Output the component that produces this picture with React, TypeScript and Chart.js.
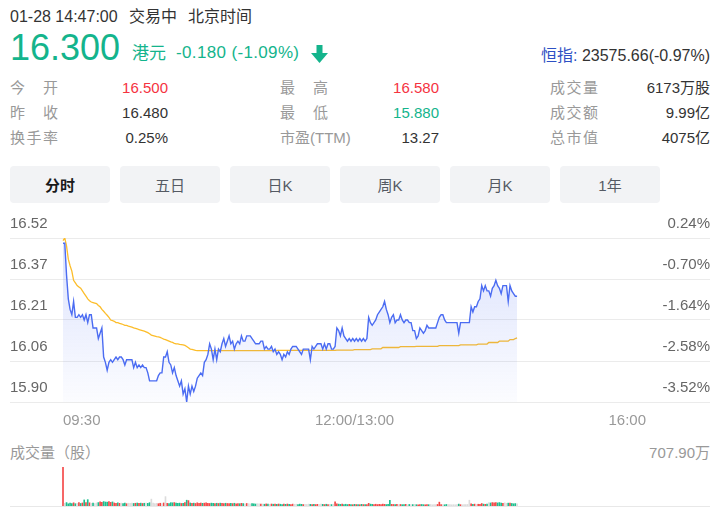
import React, { useEffect, useRef } from 'react';
import { Chart, registerables } from 'chart.js';

Chart.register(...registerables);

const FONT = '"Liberation Sans", "Noto Sans CJK SC", sans-serif';
Chart.defaults.font.family = FONT;

// ---------------- data ----------------
const prevClose = 16.48;
const priceTicks = [16.52, 16.365, 16.21, 16.055, 15.9];
const priceTickLabels = ['16.52', '16.37', '16.21', '16.06', '15.90'];
const pctTickLabels = ['0.24%', '-0.70%', '-1.64%', '-2.58%', '-3.52%'];
const timeTickPositions = [0, 165, 330];
const timeTickLabels = ['09:30', '12:00/13:00', '16:00'];

const priceSeries = [
  16.50, 16.50, 16.38, 16.29, 16.25, 16.23, 16.28, 16.22, 16.22, 16.23,
  16.22, 16.23, 16.21, 16.23, 16.20, 16.23, 16.23, 16.18, 16.18, 16.18,
  16.14, 16.16, 16.18, 16.07, 16.05, 16.02, 16.05, 16.06, 16.05, 16.06,
  16.07, 16.06, 16.07, 16.07, 16.06, 16.04, 16.06, 16.06, 16.06, 16.06,
  16.03, 16.05, 16.03, 16.04, 16.03, 16.04, 16.03, 16.03, 16.01, 15.98,
  15.98, 15.98, 15.98, 15.98, 16.00, 16.01, 16.01, 16.07, 16.07, 16.09,
  16.05, 16.04, 16.01, 16.03, 16.00, 15.98, 15.96, 15.98, 15.93, 15.95,
  15.90, 15.96, 15.93, 15.96, 15.94, 15.96, 15.99, 16.00, 16.01, 16.00,
  16.05, 16.06, 16.08, 16.12, 16.10, 16.06, 16.10, 16.06, 16.10, 16.09,
  16.12, 16.14, 16.11, 16.13, 16.15, 16.12, 16.13, 16.10, 16.12, 16.13,
  16.12, 16.15, 16.13, 16.13, 16.15, 16.15, 16.15, 16.14, 16.13, 16.12,
  16.12, 16.12, 16.13, 16.13, 16.10, 16.11, 16.10, 16.10, 16.11, 16.09,
  16.10, 16.08, 16.09, 16.08, 16.06, 16.08, 16.07, 16.09, 16.08, 16.10,
  16.11, 16.11, 16.11, 16.10, 16.09, 16.08, 16.10, 16.10, 16.10, 16.10,
  16.06, 16.11, 16.10, 16.11, 16.12, 16.12, 16.12, 16.10, 16.12, 16.10,
  16.12, 16.12, 16.10, 16.10, 16.11, 16.18, 16.17, 16.15, 16.18, 16.15,
  16.14, 16.13, 16.14, 16.13, 16.14, 16.13, 16.14, 16.13, 16.14, 16.13,
  16.14, 16.13, 16.14, 16.22, 16.20, 16.19, 16.20, 16.21, 16.23, 16.24,
  16.25, 16.26, 16.28, 16.25, 16.23, 16.20, 16.22, 16.23, 16.20, 16.21,
  16.21, 16.23, 16.21, 16.20, 16.21, 16.21, 16.20, 16.20, 16.17, 16.17,
  16.14, 16.15, 16.18, 16.17, 16.16, 16.17, 16.19, 16.18, 16.18, 16.18,
  16.18, 16.18, 16.20, 16.22, 16.23, 16.23, 16.21, 16.20, 16.20, 16.20,
  16.20, 16.20, 16.20, 16.20, 16.16, 16.20, 16.20, 16.20, 16.20, 16.20,
  16.20, 16.26, 16.24, 16.26, 16.26, 16.28, 16.29, 16.34, 16.32, 16.34,
  16.32, 16.32, 16.30, 16.33, 16.34, 16.36, 16.34, 16.33, 16.31, 16.34,
  16.34, 16.34, 16.28, 16.34, 16.32, 16.31, 16.30, 16.30,
];

const avgSeries = [
  16.51, 16.52, 16.49, 16.44, 16.415, 16.395, 16.36, 16.35, 16.34, 16.335,
  16.33, 16.32, 16.31, 16.30, 16.29, 16.283, 16.278, 16.276, 16.274, 16.272,
  16.265, 16.26, 16.25, 16.243, 16.235, 16.228, 16.22, 16.21, 16.208, 16.205,
  16.20, 16.20, 16.197, 16.195, 16.193, 16.19, 16.19, 16.187, 16.185, 16.183,
  16.18, 16.178, 16.176, 16.174, 16.172, 16.17, 16.168, 16.165, 16.162, 16.158,
  16.153, 16.151, 16.149, 16.147, 16.146, 16.144, 16.141, 16.138, 16.136, 16.133,
  16.13, 16.127, 16.125, 16.122, 16.12, 16.12, 16.118, 16.117, 16.116, 16.114,
  16.11, 16.105, 16.10, 16.099, 16.097, 16.095, 16.094, 16.094, 16.094, 16.094,
  16.094, 16.094, 16.094, 16.094, 16.094, 16.094, 16.094, 16.094, 16.094, 16.094,
  16.094, 16.094, 16.094, 16.094, 16.094, 16.094, 16.094, 16.094, 16.094, 16.094,
  16.094, 16.094, 16.094, 16.094, 16.094, 16.094, 16.094, 16.094, 16.094, 16.094,
  16.094, 16.094, 16.094, 16.094, 16.094, 16.094, 16.094, 16.094, 16.094, 16.094,
  16.094, 16.095, 16.095, 16.095, 16.095, 16.095, 16.095, 16.095, 16.095, 16.095,
  16.095, 16.095, 16.095, 16.095, 16.095, 16.095, 16.095, 16.095, 16.095, 16.095,
  16.095, 16.095, 16.095, 16.095, 16.095, 16.095, 16.095, 16.095, 16.095, 16.095,
  16.095, 16.095, 16.095, 16.095, 16.095, 16.096, 16.096, 16.096, 16.096, 16.096,
  16.096, 16.096, 16.096, 16.096, 16.096, 16.098, 16.098, 16.098, 16.098, 16.098,
  16.098, 16.098, 16.098, 16.098, 16.098, 16.101, 16.101, 16.101, 16.101, 16.101,
  16.101, 16.106, 16.106, 16.106, 16.106, 16.106, 16.106, 16.106, 16.106, 16.106,
  16.106, 16.109, 16.109, 16.109, 16.109, 16.109, 16.109, 16.109, 16.109, 16.109,
  16.110, 16.110, 16.110, 16.110, 16.110, 16.110, 16.110, 16.110, 16.110, 16.110,
  16.110, 16.110, 16.110, 16.113, 16.113, 16.113, 16.113, 16.113, 16.113, 16.113,
  16.113, 16.113, 16.113, 16.113, 16.113, 16.116, 16.116, 16.116, 16.116, 16.116,
  16.116, 16.116, 16.116, 16.116, 16.116, 16.119, 16.119, 16.119, 16.119, 16.119,
  16.119, 16.125, 16.125, 16.125, 16.125, 16.125, 16.125, 16.130, 16.130, 16.130,
  16.130, 16.130, 16.130, 16.136, 16.136, 16.136, 16.140, 16.142,
];

// volume per minute, in 万股
const volumeSeries = [
  707.9, 48, 62, 40, 55, 45, 58, 42, 50, 60,
  46, 55, 110, 62, 115, 58, 48, 52, 44, 56,
  62, 75, 68, 80, 72, 70, 78, 66, 74, 55,
  50, 58, 48, 52, 46, 55, 42, 50, 48, 52,
  46, 50, 54, 48, 52, 46, 50, 55, 48, 60,
  125, 52, 46, 48, 42, 50, 45, 55, 170, 48,
  44, 60, 58, 62, 55, 48, 52, 46, 50, 62,
  105, 98, 55, 48, 52, 46, 58, 50, 54, 48,
  52, 56, 50, 46, 52, 48, 44, 50, 46, 52,
  48, 44, 50, 46, 42, 48, 44, 50, 40, 46,
  42, 48, 44, 40, 46, 42, 38, 44, 40, 36,
  42, 38, 34, 36, 32, 38, 34, 30, 36, 32,
  34, 30, 36, 32, 28, 34, 30, 36, 32, 28,
  34, 30, 32, 28, 34, 30, 26, 32, 28, 34,
  30, 28, 32, 26, 30, 28, 34, 30, 26, 32,
  28, 30, 26, 32, 75, 40, 34, 30, 36, 28,
  32, 26, 30, 28, 24, 30, 26, 28, 24, 30,
  26, 28, 24, 48, 34, 30, 28, 32, 26, 30,
  28, 34, 30, 26, 32, 105, 30, 28, 24, 30,
  26, 28, 24, 26, 30, 22, 28, 24, 26, 30,
  24, 22, 26, 28, 24, 22, 26, 24, 28, 22,
  26, 24, 28, 70, 26, 24, 22, 28, 24, 26,
  22, 24, 22, 26, 34, 24, 22, 26, 24, 28,
  105, 40, 30, 34, 28, 32, 30, 45, 34, 30,
  36, 60, 55, 62, 58, 60, 56, 62, 54, 50,
  58, 48, 52, 55, 46, 40, 44, 38,
];
const volumeMax = 707.9;
const volumeMaxLabel = '707.90万';
const volumeTitle = '成交量（股）';

const headerTime = '01-28 14:47:00';
const headerStatus = '交易中';
const headerZone = '北京时间';
const lastPrice = '16.300';
const currency = '港元';
const changeText = '-0.180 (-1.09%)';
const indexName = '恒指:';
const indexValue = ' 23575.66(-0.97%)';

const quoteRows = [
  [
    { label: '今开', value: '16.500', tone: 'up' },
    { label: '最高', value: '16.580', tone: 'up' },
    { label: '成交量', value: '6173万股', tone: '' },
  ],
  [
    { label: '昨收', value: '16.480', tone: '' },
    { label: '最低', value: '15.880', tone: 'down' },
    { label: '成交额', value: '9.99亿', tone: '' },
  ],
  [
    { label: '换手率', value: '0.25%', tone: '' },
    { label: '市盈(TTM)', value: '13.27', tone: '' },
    { label: '总市值', value: '4075亿', tone: '' },
  ],
];
const tabLabels = ['分时', '五日', '日K', '周K', '月K', '1年'];

// ---------------- styles ----------------
const GREEN = '#14b48c';
const RED = '#f5333f';
const LABEL = '#999999';
const TEXT = '#333333';
const X_MIN = -30;
const X_MAX = 366.2;

type TProps = {
  x: number;
  cy: number;
  size: number;
  color?: string;
  right?: boolean;
  weight?: number;
  children: React.ReactNode;
  spacing?: number;
};

function T({ x, cy, size, color = TEXT, right, weight = 400, children, spacing = 0 }: TProps) {
  const style: React.CSSProperties = {
    position: 'absolute',
    top: cy - 0.49 * size,
    fontSize: size,
    lineHeight: `${size}px`,
    color,
    fontWeight: weight,
    whiteSpace: 'nowrap',
    letterSpacing: spacing,
  };
  if (right) style.right = 724 - x;
  else style.left = x;
  return <div style={style}>{children}</div>;
}

function Label({ x, cy, text }: { x: number; cy: number; text: string }) {
  const chars = Array.from(text);
  const justify = chars.length <= 3;
  return (
    <div
      style={{
        position: 'absolute',
        left: x,
        top: cy - 0.49 * 15,
        fontSize: 15,
        lineHeight: '15px',
        color: LABEL,
        whiteSpace: 'nowrap',
        width: justify ? 48 : undefined,
        display: justify ? 'flex' : 'block',
        justifyContent: 'space-between',
      }}
    >
      {justify ? chars.map((c, i) => <span key={i}>{c}</span>) : text}
    </div>
  );
}

export default function App() {
  const priceRef = useRef<HTMLCanvasElement | null>(null);
  const volRef = useRef<HTMLCanvasElement | null>(null);

  useEffect(() => {
    const priceData = priceSeries.map((v, i) => ({ x: i, y: v }));
    const avgData = avgSeries.map((v, i) => ({ x: i, y: v }));
    const volData = volumeSeries.map((v, i) => ({ x: i, y: v }));
    const volColors = priceSeries.map((p, i) => {
      const prev = i === 0 ? prevClose : priceSeries[i - 1];
      if (p > prev) return '#f54848';
      if (p < prev) return '#1dbf8e';
      return '#dcdcdc';
    });

    const priceTickBuild = (s: any) => {
      s.ticks = priceTicks.map((v) => ({ value: v }));
    };

    const priceChart = new Chart(priceRef.current!, {
      type: 'line',
      data: {
        datasets: [
          {
            data: priceData,
            borderColor: '#4b6cf2',
            borderWidth: 1.4,
            pointRadius: 0,
            tension: 0,
            fill: 'start',
            backgroundColor: (ctx: any) => {
              const ca = ctx.chart.chartArea;
              if (!ca) return 'rgba(75,108,242,0.1)';
              const g = ctx.chart.ctx.createLinearGradient(0, ca.top, 0, ca.bottom);
              g.addColorStop(0, 'rgba(75,108,242,0.20)');
              g.addColorStop(1, 'rgba(75,108,242,0.02)');
              return g;
            },
          },
          {
            data: avgData,
            borderColor: '#fcbd2a',
            borderWidth: 1.3,
            pointRadius: 0,
            tension: 0,
            fill: false,
          },
        ],
      },
      options: {
        animation: false,
        responsive: false,
        events: [],
        layout: { padding: { top: 33, left: 0, right: 0, bottom: 0 } },
        plugins: { legend: { display: false }, tooltip: { enabled: false } },
        scales: {
          x: {
            type: 'linear',
            min: X_MIN,
            max: X_MAX,
            bounds: 'data',
            grid: { display: false, drawTicks: false },
            border: { display: false },
            afterBuildTicks: (s: any) => {
              s.ticks = timeTickPositions.map((v) => ({ value: v }));
            },
            afterFit: (s: any) => {
              s.height = 28;
            },
            ticks: {
              autoSkip: false,
              maxRotation: 0,
              align: 'inner',
              padding: 10,
              color: '#999999',
              font: { size: 15, family: FONT },
              callback: (v: any) => timeTickLabels[timeTickPositions.indexOf(Number(v))],
            },
          },
          y: {
            position: 'left',
            min: 15.9,
            max: 16.52,
            bounds: 'data',
            afterBuildTicks: priceTickBuild,
            afterFit: (s: any) => {
              s.width = 0;
            },
            grid: { color: '#ebebeb', lineWidth: 1, drawTicks: false },
            border: { display: false },
            ticks: {
              mirror: true,
              padding: 0,
              labelOffset: -14,
              color: '#666666',
              font: { size: 15, family: FONT },
              callback: (v: any) => priceTickLabels[priceTicks.indexOf(Number(v))],
            },
          },
          y2: {
            position: 'right',
            min: 15.9,
            max: 16.52,
            bounds: 'data',
            afterBuildTicks: priceTickBuild,
            afterFit: (s: any) => {
              s.width = 0;
            },
            grid: { display: false, drawTicks: false },
            border: { display: false },
            ticks: {
              mirror: true,
              padding: 0,
              labelOffset: -14,
              color: '#666666',
              font: { size: 15, family: FONT },
              callback: (v: any) => pctTickLabels[priceTicks.indexOf(Number(v))],
            },
          },
        },
      } as any,
    });

    const volChart = new Chart(volRef.current!, {
      type: 'bar',
      data: {
        datasets: [
          {
            data: volData,
            backgroundColor: volColors,
            barThickness: 1,
            borderWidth: 0,
          },
        ],
      },
      options: {
        animation: false,
        responsive: false,
        events: [],
        layout: { padding: { top: 27, left: 0, right: 0, bottom: 5 } },
        plugins: { legend: { display: false }, tooltip: { enabled: false } },
        scales: {
          x: {
            type: 'linear',
            min: X_MIN,
            max: X_MAX,
            bounds: 'data',
            offset: false,
            grid: { display: false, drawTicks: false },
            border: { display: true, color: '#e8e8e8', width: 1 },
            ticks: { display: false },
            afterFit: (s: any) => {
              s.height = 0;
            },
          },
          y: {
            display: false,
            min: 0,
            max: volumeMax,
          },
        },
      } as any,
    });

    return () => {
      priceChart.destroy();
      volChart.destroy();
    };
  }, []);

  const toneColor = (t: string) => (t === 'up' ? RED : t === 'down' ? GREEN : TEXT);
  const labelX = [10, 280, 550];
  const valueRight = [168, 439, 710];
  const rowCy = [87, 112, 137.5];

  return (
    <div
      style={{
        position: 'absolute',
        left: 0,
        top: 0,
        width: 724,
        height: 514,
        overflow: 'hidden',
        background: '#ffffff',
        fontFamily: FONT,
      }}
    >
      <T x={10} cy={17} size={16}>{headerTime}</T>
      <T x={129} cy={17} size={16}>{headerStatus}</T>
      <T x={188} cy={17} size={16}>{headerZone}</T>

      <T x={10} cy={47.5} size={36} color={GREEN}>{lastPrice}</T>
      <T x={132} cy={53} size={17} color={GREEN}>{currency}</T>
      <T x={176} cy={52.3} size={17} color={GREEN} spacing={0.35}>{changeText}</T>
      <svg
        style={{ position: 'absolute', left: 311, top: 45 }}
        width={17}
        height={18}
        viewBox="0 0 17 18"
      >
        <rect x={5.5} y={0} width={6} height={9} fill={GREEN} />
        <polygon points="0,8 17,8 8.5,18" fill={GREEN} />
      </svg>

      <T x={710} cy={55.8} size={16} right>
        <span style={{ color: '#2d50c4' }}>{indexName}</span>
        <span style={{ color: TEXT }}>{indexValue}</span>
      </T>

      {quoteRows.map((row, r) =>
        row.map((cell, c) => (
          <React.Fragment key={`${r}-${c}`}>
            <Label x={labelX[c]} cy={rowCy[r]} text={cell.label} />
            <T x={valueRight[c]} cy={rowCy[r]} size={15} right color={toneColor(cell.tone)}>
              {cell.value}
            </T>
          </React.Fragment>
        ))
      )}

      {tabLabels.map((t, i) => (
        <div
          key={t}
          style={{
            position: 'absolute',
            left: 10 + i * 110,
            top: 166,
            width: 100,
            height: 37,
            borderRadius: 4,
            background: '#f2f3f5',
            display: 'flex',
            alignItems: 'center',
            justifyContent: 'center',
            fontSize: 15,
            color: i === 0 ? '#1a1a1a' : '#555a63',
            fontWeight: i === 0 ? 700 : 400,
          }}
        >
          {t}
        </div>
      ))}

      <canvas
        ref={priceRef}
        width={700}
        height={225}
        style={{ position: 'absolute', left: 10, top: 205, width: 700, height: 225 }}
      />

      <T x={10} cy={452} size={15} color={LABEL}>{volumeTitle}</T>
      <T x={710} cy={452} size={15} right color={LABEL}>{volumeMaxLabel}</T>

      <canvas
        ref={volRef}
        width={700}
        height={71}
        style={{ position: 'absolute', left: 10, top: 440, width: 700, height: 71 }}
      />
    </div>
  );
}
